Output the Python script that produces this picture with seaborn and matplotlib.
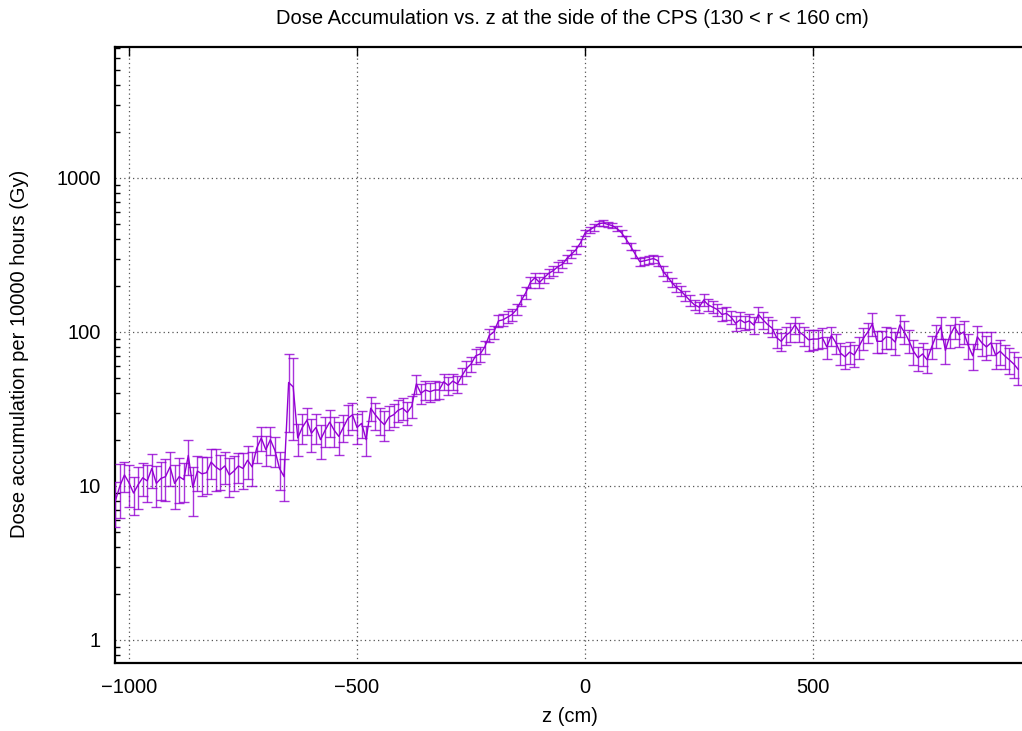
import numpy as np
import pandas as pd
import matplotlib
matplotlib.use("Agg")
import matplotlib.pyplot as plt
from matplotlib.ticker import FixedLocator, FixedFormatter, LogLocator, NullFormatter
import seaborn as sns

# z positions of the scoring bins (cm)
z_cm = np.arange(-1030, 951, 10)

# accumulated dose per 10000 hours (Gy)
dose = [
    8.0, 10.0, 11.8, 10.5, 9.0, 10.2, 11.3, 10.8, 13.0, 10.4,
    11.2, 11.5, 13.3, 10.4, 11.5, 11.0, 15.8, 9.8, 12.5, 12.0,
    12.2, 14.3, 13.3, 12.7, 13.5, 11.8, 12.5, 13.5, 13.0, 14.7,
    13.3, 17.6, 20.5, 17.2, 20.0, 17.0, 13.0, 11.5, 47.0, 44.0,
    20.5, 24.0, 26.7, 22.0, 24.0, 20.0, 23.0, 26.0, 23.0, 21.0,
    24.0, 27.5, 29.0, 24.0, 25.5, 20.0, 32.0, 29.0, 26.7, 25.0,
    28.0, 29.0, 31.0, 32.0, 30.0, 33.0, 46.0, 40.0, 42.0, 41.0,
    42.0, 42.0, 47.5, 45.0, 48.0, 46.0, 52.0, 58.0, 62.0, 70.0,
    72.0, 80.0, 95.0, 100.0, 118.0, 120.0, 125.0, 130.0, 140.0, 160.0,
    180.0, 210.0, 225.0, 210.0, 225.0, 240.0, 250.0, 265.0, 275.0, 300.0,
    320.0, 342.0, 380.0, 440.0, 460.0, 480.0, 505.0, 510.0, 500.0, 490.0,
    470.0, 440.0, 400.0, 360.0, 320.0, 286.0, 290.0, 295.0, 300.0, 290.0,
    250.0, 230.0, 210.0, 195.0, 185.0, 172.0, 160.0, 150.0, 145.0, 161.0,
    150.0, 145.0, 140.0, 130.0, 132.0, 125.0, 114.0, 120.0, 115.0, 118.0,
    111.0, 130.0, 120.0, 112.0, 106.0, 92.0, 87.0, 95.0, 100.0, 111.0,
    100.0, 95.0, 89.0, 90.0, 90.0, 92.0, 80.0, 95.0, 85.0, 73.0,
    69.0, 74.0, 71.0, 80.0, 91.0, 100.0, 113.0, 87.0, 87.0, 93.0,
    92.0, 86.0, 111.0, 100.0, 88.0, 75.0, 68.0, 72.0, 66.0, 80.0,
    95.0, 108.0, 76.0, 95.0, 108.0, 96.0, 100.0, 82.0, 70.0, 93.0,
    85.0, 80.0, 85.0, 71.0, 75.0, 70.0, 66.0, 62.0, 57.0,
]

# statistical uncertainty of each bin (percent)
rel_err_pct = [
    32, 38, 22, 30, 28, 30, 24, 27, 25, 30,
    28, 30, 25, 32, 33, 28, 25, 35, 26, 28,
    27, 22, 30, 26, 24, 28, 26, 22, 26, 24,
    25, 20, 18, 22, 20, 22, 28, 30, 52, 55,
    24, 22, 20, 24, 22, 25, 22, 20, 22, 24,
    20, 22, 20, 22, 20, 22, 18, 20, 20, 22,
    18, 17, 16, 16, 17, 16, 14, 15, 14, 14,
    14, 13, 12, 13, 12, 13, 12, 11, 11, 11,
    11, 10, 10, 10, 9, 9, 9, 9, 8, 8,
    9, 8, 8, 8, 7, 7, 7, 7, 6, 6,
    6, 6, 5, 5, 5, 5, 4, 4, 4, 4,
    4, 5, 5, 5, 6, 6, 6, 6, 6, 7,
    7, 7, 7, 7, 8, 8, 8, 8, 8, 9,
    9, 9, 9, 10, 10, 10, 11, 12, 10, 11,
    12, 11, 13, 12, 13, 14, 14, 13, 14, 12,
    14, 14, 15, 15, 14, 15, 16, 14, 15, 16,
    17, 16, 16, 16, 16, 15, 17, 16, 16, 16,
    16, 17, 16, 17, 17, 18, 18, 17, 18, 17,
    17, 16, 18, 17, 16, 17, 17, 18, 19, 17,
    18, 18, 17, 19, 18, 18, 19, 19, 20,
]

x_ticks = [-1000, -500, 0, 500]
x_tick_labels = ["\u22121000", "\u2212500", "0", "500"]
y_ticks = [1, 10, 100, 1000]
y_tick_labels = ["1", "10", "100", "1000"]

df = pd.DataFrame({"z": z_cm, "dose": dose, "rel": rel_err_pct})
df["err"] = df["dose"] * df["rel"] / 100.0

sns.set_theme(style="white")
plt.rcParams["font.family"] = ["Liberation Sans", "DejaVu Sans"]
FS = 14.5

W, H = 1022, 731
fig = plt.figure(figsize=(W / 100, H / 100), dpi=100)
ax = fig.add_axes([115 / W, (H - 663) / H, (1022 - 115) / W, (663 - 47) / H])

purple = "#9400d3"
ax.errorbar(df["z"], df["dose"], yerr=df["err"], fmt="none",
            ecolor=purple, elinewidth=1.0, capsize=3.5, capthick=1.0,
            alpha=0.8, zorder=3)
sns.lineplot(data=df, x="z", y="dose", ax=ax, color=purple,
             linewidth=1.0, errorbar=None, zorder=4)

ax.set_yscale("log")
ax.set_xlim(-1030.7, 958)
ax.set_ylim(0.709, 7090)

ax.xaxis.set_major_locator(FixedLocator(x_ticks))
ax.xaxis.set_major_formatter(FixedFormatter(x_tick_labels))
ax.yaxis.set_major_locator(FixedLocator(y_ticks))
ax.yaxis.set_major_formatter(FixedFormatter(y_tick_labels))
ax.yaxis.set_minor_locator(LogLocator(base=10, subs=np.arange(2, 10), numticks=20))
ax.yaxis.set_minor_formatter(NullFormatter())

ax.tick_params(axis="both", which="major", direction="in", length=6.5,
               width=1.0, color="black", labelsize=FS, labelcolor="black",
               top=True, right=False)
ax.tick_params(axis="x", which="major", pad=11)
ax.tick_params(axis="y", which="major", pad=10)
ax.tick_params(axis="y", which="minor", direction="in", length=3.5,
               width=1.0, color="black", left=True, right=False)

ax.grid(True, which="major", color="#555555", linestyle=(0, (1, 2.5)),
        linewidth=0.9)
ax.set_axisbelow(True)

for side in ["left", "top", "bottom"]:
    ax.spines[side].set_visible(True)
    ax.spines[side].set_color("black")
    ax.spines[side].set_linewidth(1.6)
ax.spines["right"].set_visible(False)

ax.set_xlabel("z (cm)", fontsize=FS, color="black")
ax.xaxis.set_label_coords((570 - 115) / (1022 - 115), -(716 - 663) / (663 - 47))
ax.xaxis.label.set_va("center")
ax.set_ylabel("Dose accumulation per 10000 hours (Gy)", fontsize=FS, color="black")
ax.yaxis.set_label_coords(-(115 - 20) / (1022 - 115), (663 - 354) / (663 - 47))
ax.yaxis.label.set_va("center")
fig.text(572 / W, 1 - 18 / H,
         "Dose Accumulation vs. z at the side of the CPS (130 < r < 160 cm)",
         fontsize=FS, color="black", ha="center", va="center")

fig.savefig("out.png", dpi=100, facecolor="white")
